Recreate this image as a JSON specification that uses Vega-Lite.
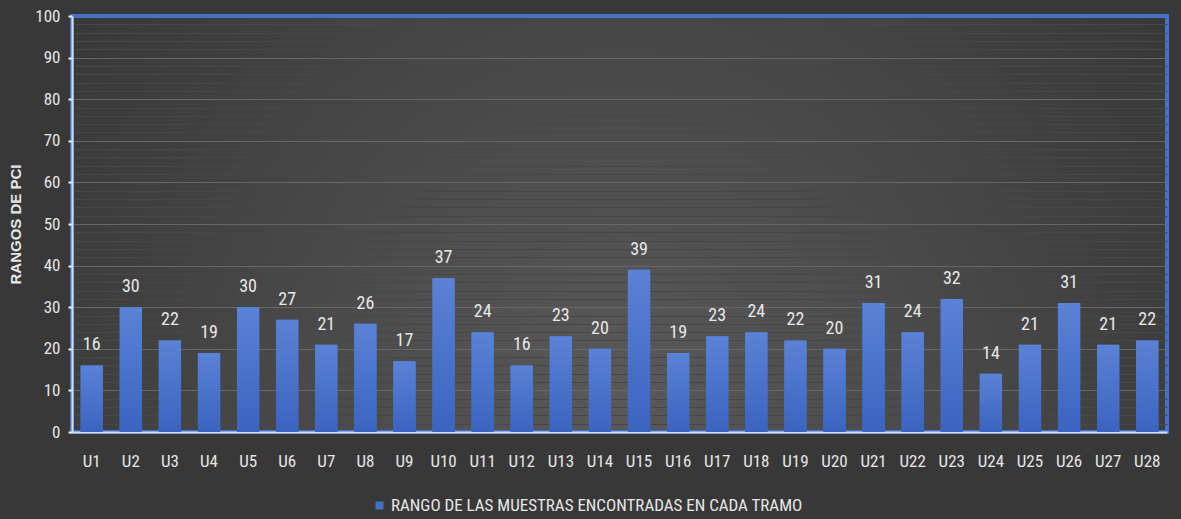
{
  "$schema": "https://vega.github.io/schema/vega-lite/v6.json",
  "width": 1095,
  "height": 416,
  "autosize": {"type": "none"},
  "padding": {"left": 72, "top": 16, "right": 14, "bottom": 87},
  "background": "#383838",
  "config": {
    "font": "Liberation Sans Narrow, Roboto Condensed, Liberation Sans, sans-serif",
    "view": {
      "stroke": "#4472C4",
      "strokeWidth": 4,
      "fill": {
        "gradient": "radial",
        "x1": 0.5, "y1": 0.65, "r1": 0,
        "x2": 0.5, "y2": 0.65, "r2": 0.75,
        "stops": [
          {"offset": 0, "color": "#595959"},
          {"offset": 1, "color": "#303030"}
        ]
      }
    }
  },
  "data": {
    "values": [
      {"tramo": "U1", "pci": 16}, {"tramo": "U2", "pci": 30}, {"tramo": "U3", "pci": 22},
      {"tramo": "U4", "pci": 19}, {"tramo": "U5", "pci": 30}, {"tramo": "U6", "pci": 27},
      {"tramo": "U7", "pci": 21}, {"tramo": "U8", "pci": 26}, {"tramo": "U9", "pci": 17},
      {"tramo": "U10", "pci": 37}, {"tramo": "U11", "pci": 24}, {"tramo": "U12", "pci": 16},
      {"tramo": "U13", "pci": 23}, {"tramo": "U14", "pci": 20}, {"tramo": "U15", "pci": 39},
      {"tramo": "U16", "pci": 19}, {"tramo": "U17", "pci": 23}, {"tramo": "U18", "pci": 24},
      {"tramo": "U19", "pci": 22}, {"tramo": "U20", "pci": 20}, {"tramo": "U21", "pci": 31},
      {"tramo": "U22", "pci": 24}, {"tramo": "U23", "pci": 32}, {"tramo": "U24", "pci": 14},
      {"tramo": "U25", "pci": 21}, {"tramo": "U26", "pci": 31}, {"tramo": "U27", "pci": 21},
      {"tramo": "U28", "pci": 22}
    ]
  },
  "encoding": {
    "x": {
      "field": "tramo",
      "type": "nominal",
      "sort": null,
      "scale": {"paddingInner": 0.43, "paddingOuter": 0.22},
      "axis": {
        "title": null,
        "labelAngle": 0,
        "labelFontSize": 17,
        "labelColor": "#e6e6e6",
        "ticks": false,
        "labelPadding": 21,
        "domainColor": "#d6def2",
        "domainWidth": 2,
        "grid": false
      }
    },
    "y": {
      "field": "pci",
      "type": "quantitative",
      "scale": {"domain": [0, 100], "nice": false},
      "axis": {
        "values": [0,2,4,6,8,10,12,14,16,18,20,22,24,26,28,30,32,34,36,38,40,42,44,46,48,50,52,54,56,58,60,62,64,66,68,70,72,74,76,78,80,82,84,86,88,90,92,94,96,98,100],
        "labelExpr": "datum.value % 10 === 0 ? datum.label : ''",
        "grid": true,
        "gridColor": {"condition": {"test": "datum.value % 10 === 0", "value": "#666666"}, "value": "#474747"},
        "gridOpacity": {"condition": {"test": "datum.value === 100 || datum.value === 0", "value": 0}, "value": 1},
        "gridWidth": 1,
        "tickSize": 4,
        "tickColor": "#f0f0f0",
        "tickWidth": 2,
        "tickOpacity": {"condition": {"test": "datum.value % 10 === 0", "value": 1}, "value": 0},
        "domainColor": "#d6def2",
        "domainWidth": 2,
        "labelFontSize": 17,
        "labelColor": "#e6e6e6",
        "labelPadding": 8,
        "title": "RANGOS DE PCI",
        "titleFont": "Liberation Sans",
        "titleFontSize": 15,
        "titleFontWeight": "bold",
        "titleColor": "#e6e6e6",
        "titlePadding": 11
      }
    }
  },
  "layer": [
    {
      "mark": {"type": "bar"},
      "encoding": {
        "color": {
          "datum": "RANGO DE LAS MUESTRAS ENCONTRADAS EN CADA TRAMO",
          "type": "nominal",
          "scale": {"range": ["#4472C4"]},
          "legend": {
            "title": null,
            "orient": "none",
            "legendX": 299,
            "legendY": 481,
            "symbolType": "square",
            "symbolSize": 64,
            "symbolStrokeWidth": 0,
            "labelFontSize": 17,
            "labelColor": "#e6e6e6",
            "labelOffset": 3,
            "labelLimit": 600
          }
        }
      }
    },
    {
      "mark": {
        "type": "bar",
        "color": {
          "gradient": "linear",
          "x1": 0, "y1": 0, "x2": 0, "y2": 1,
          "stops": [
            {"offset": 0, "color": "#5a82d6"},
            {"offset": 1, "color": "#3a64bf"}
          ]
        }
      }
    },
    {
      "mark": {"type": "text", "dy": -15, "baseline": "alphabetic", "fontSize": 18, "color": "#e8e8e8"},
      "encoding": {"text": {"field": "pci", "type": "quantitative"}}
    }
  ]
}
